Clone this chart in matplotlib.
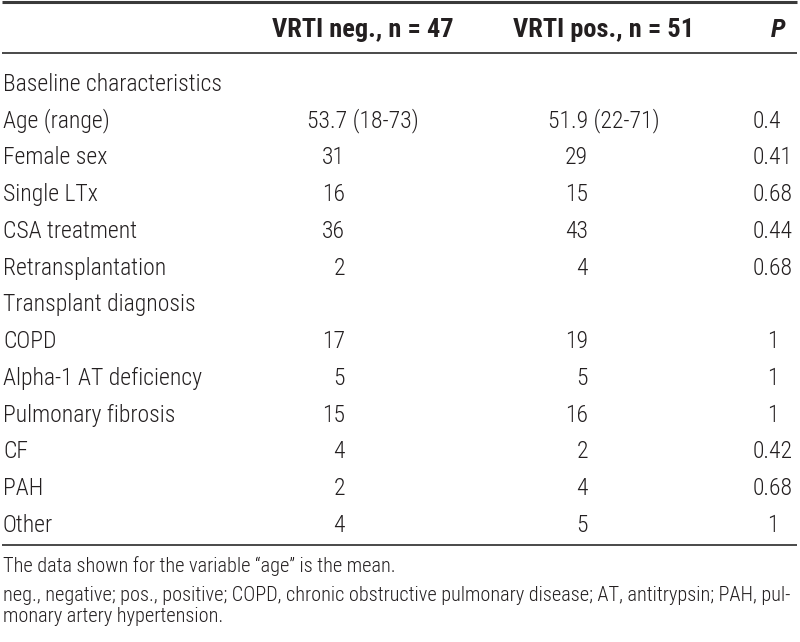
import matplotlib
matplotlib.use('Agg')
import matplotlib.pyplot as plt

plt.rcParams['font.family'] = ['Roboto Condensed', 'Archivo Narrow', 'DejaVu Sans']

# table content
col_headers = ['VRTI neg., n = 47', 'VRTI pos., n = 51', 'P']
row_labels = ['Baseline characteristics', 'Age (range)', 'Female sex', 'Single LTx',
              'CSA treatment', 'Retransplantation', 'Transplant diagnosis', 'COPD',
              'Alpha-1 AT deficiency', 'Pulmonary fibrosis', 'CF', 'PAH', 'Other']
vrti_neg = ['', '53.7 (18-73)', '31', '16', '36', '2', '', '17', '5', '15', '4', '2', '4']
vrti_pos = ['', '51.9 (22-71)', '29', '15', '43', '4', '', '19', '5', '16', '2', '4', '5']
p_values = ['', '0.4', '0.41', '0.68', '0.44', '0.68', '', '1', '1', '1', '0.42', '0.68', '1']
footnotes = ['The data shown for the variable \u201cage\u201d is the mean.',
             'neg., negative; pos., positive; COPD, chronic obstructive pulmonary disease; AT, antitrypsin; PAH, pul-',
             'monary artery hypertension.']

W, H = 800, 642
txt = '#231f20'
rule = '#3a3a3a'
fs = 17
body = dict(fontsize=fs, color=txt, fontweight=300, va='baseline')

fig = plt.figure(figsize=(W / 100, H / 100), dpi=100)
ax = fig.add_axes([0, 0, 1, 1])
ax.set_xlim(0, W)
ax.set_ylim(H, 0)
ax.axis('off')

# rules
ax.hlines(1.5, 2, 797, color=rule, lw=2.2)
ax.hlines(52.5, 2, 797, color=rule, lw=1.3)
ax.hlines(545, 2, 797, color=rule, lw=1.3)

# header
ax.text(363, 37, col_headers[0], ha='center', va='baseline', fontsize=19, fontweight='bold', color=txt)
ax.text(604, 37, col_headers[1], ha='center', va='baseline', fontsize=19, fontweight='bold', color=txt)
ax.text(778, 37, col_headers[2], ha='center', va='baseline', fontsize=19, fontweight='bold',
        style='italic', color=txt)

# body rows
y0, dy = 91, 36.75
for i, lab in enumerate(row_labels):
    y = y0 + i * dy
    ax.text(3, y, lab, ha='left', **body)
    for val, cx, rx in [(vrti_neg[i], 363, 345), (vrti_pos[i], 604, 588)]:
        if not val:
            continue
        if '(' in val:
            ax.text(cx, y, val, ha='center', **body)
        else:
            ax.text(rx, y, val, ha='right', **body)
    p = p_values[i]
    if p:
        if '.' in p:
            ax.text(753, y, p, ha='left', **body)
        else:
            ax.text(779, y, p, ha='right', **body)

# footnotes
for note, yb in zip(footnotes, [572, 601, 622]):
    ax.text(3, yb, note, ha='left', va='baseline', fontsize=14.6, fontweight=300, color=txt)

fig.savefig('out.png', dpi=100)
